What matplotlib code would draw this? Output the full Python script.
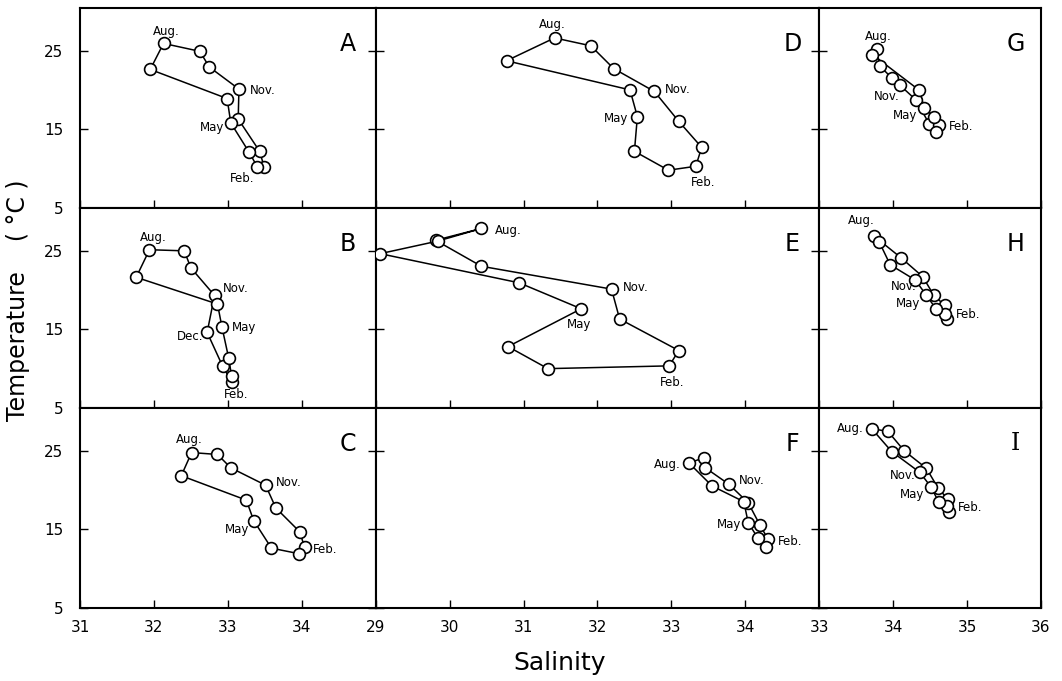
import matplotlib
matplotlib.use("Agg")
import matplotlib.pyplot as plt
import numpy as np

# monthly T-S points, starting in August and going round the loop
A_sal = [32.13, 32.62, 32.75, 33.15, 33.14, 33.43, 33.49, 33.40, 33.29, 33.04, 32.99, 31.95]
A_temp = [25.9, 24.9, 22.9, 20.1, 16.3, 12.2, 10.25, 10.2, 12.05, 15.8, 18.9, 22.6]

B_sal = [31.94, 32.41, 32.50, 32.82, 32.72, 32.93, 33.05, 33.05, 33.01, 32.92, 32.86, 31.76]
B_temp = [25.1, 24.96, 22.8, 19.3, 14.6, 10.3, 8.35, 9.1, 11.4, 15.3, 18.2, 21.6]

C_sal = [32.51, 32.86, 33.04, 33.51, 33.65, 33.97, 34.04, 33.96, 33.59, 33.35, 33.25, 32.37]
C_temp = [24.74, 24.5, 22.8, 20.6, 17.7, 14.7, 12.7, 11.9, 12.6, 16.1, 18.7, 21.8]

D_sal = [31.42, 31.91, 32.22, 32.77, 33.10, 33.41, 33.33, 32.96, 32.50, 32.54, 32.44, 30.77]
D_temp = [26.6, 25.6, 22.7, 19.8, 16.0, 12.7, 10.3, 9.8, 12.2, 16.6, 20.0, 23.7]

E_sal = [30.43, 29.81, 30.43, 32.19, 32.30, 33.10, 32.97, 31.33, 30.79, 31.78, 30.94, 29.06, 29.84]
E_temp = [27.8, 26.3, 23.0, 20.1, 16.3, 12.3, 10.35, 10.0, 12.8, 17.6, 20.9, 24.6, 26.2]

F_sal = [33.24, 33.44, 33.46, 33.78, 34.04, 34.20, 34.31, 34.28, 34.17, 34.04, 33.98, 33.55]
F_temp = [23.4, 24.1, 22.8, 20.7, 18.35, 15.5, 13.7, 12.8, 13.9, 15.8, 18.5, 20.5]

G_sal = [33.775, 33.82, 33.98, 34.09, 34.31, 34.49, 34.62, 34.58, 34.55, 34.42, 34.35, 33.72]
G_temp = [25.13, 23.02, 21.54, 20.61, 18.71, 15.63, 15.51, 14.70, 16.60, 17.74, 19.98, 24.49]

H_sal = [33.74, 34.11, 34.40, 34.55, 34.70, 34.73, 34.70, 34.58, 34.45, 34.30, 33.96, 33.81]
H_temp = [26.85, 24.05, 21.68, 19.31, 18.02, 16.29, 16.94, 17.59, 19.31, 21.25, 23.19, 26.12]

I_sal = [33.71, 33.93, 34.15, 34.45, 34.61, 34.74, 34.75, 34.73, 34.62, 34.51, 34.36, 33.98]
I_temp = [27.77, 27.43, 24.96, 22.74, 20.19, 18.83, 17.13, 17.98, 18.40, 20.40, 22.23, 24.87]

# month labels: (point index, text)
A_labels = [(0, "Aug."), (3, "Nov."), (9, "May"), (6, "Feb.")]
B_labels = [(0, "Aug."), (3, "Nov."), (4, "Dec."), (9, "May"), (6, "Feb.")]
C_labels = [(0, "Aug."), (3, "Nov."), (9, "May"), (6, "Feb.")]
D_labels = [(0, "Aug."), (3, "Nov."), (9, "May"), (6, "Feb.")]
E_labels = [(0, "Aug."), (3, "Nov."), (9, "May"), (6, "Feb.")]
F_labels = [(0, "Aug."), (3, "Nov."), (9, "May"), (6, "Feb.")]
G_labels = [(0, "Aug."), (3, "Nov."), (9, "May"), (6, "Feb.")]
H_labels = [(0, "Aug."), (9, "Nov."), (8, "May"), (6, "Feb.")]
I_labels = [(0, "Aug."), (10, "Nov."), (9, "May"), (7, "Feb.")]

# label offsets in pixels from their point
offsets = {
    "A": [(3, 12), (24, -1), (-19, -5), (-22, -12)],
    "B": [(4, 12), (21, 7), (-17, -4), (22, -1), (5, -13)],
    "C": [(-2, 13), (23, 3), (-17, -9), (20, -2)],
    "D": [(-2, 13), (23, 2), (-21, -2), (7, -16)],
    "E": [(27, -2), (24, 2), (-2, -16), (3, -17)],
    "F": [(-22, -1), (23, 4), (-19, -2), (22, -2)],
    "G": [(2, 13), (-13, -11), (-19, -8), (22, -1)],
    "H": [(-13, 15), (-12, -6), (-18, -8), (23, -1)],
    "I": [(-21, 0), (-17, -3), (-19, -8), (23, -2)],
}

data = {
    "A": (A_sal, A_temp, A_labels), "B": (B_sal, B_temp, B_labels),
    "C": (C_sal, C_temp, C_labels), "D": (D_sal, D_temp, D_labels),
    "E": (E_sal, E_temp, E_labels), "F": (F_sal, F_temp, F_labels),
    "G": (G_sal, G_temp, G_labels), "H": (H_sal, H_temp, H_labels),
    "I": (I_sal, I_temp, I_labels),
}

grid = [["A", "D", "G"], ["B", "E", "H"], ["C", "F", "I"]]
xlims = [(31, 35), (29, 35), (33, 36)]
xticks = [[31, 32, 33, 34], [29, 30, 31, 32, 33, 34], [33, 34, 35, 36]]
letter_x = [0.905, 0.94, 0.885]

plt.rcParams["font.family"] = "DejaVu Sans"

fig = plt.figure(figsize=(10.62, 6.81), dpi=100)
gs = fig.add_gridspec(3, 3, width_ratios=[4, 6, 3],
                      left=80 / 1062, right=1041 / 1062,
                      top=1 - 8 / 681, bottom=1 - 608 / 681,
                      hspace=0, wspace=0)

for r in range(3):
    for c in range(3):
        key = grid[r][c]
        sal, temp, labels = data[key]
        ax = fig.add_subplot(gs[r, c])
        xs = np.append(sal, sal[0])
        ys = np.append(temp, temp[0])
        ax.plot(xs, ys, "-", color="black", lw=1.1, zorder=2)
        ax.plot(sal, temp, "o", ms=8.5, mfc="white", mec="black", mew=1.2, zorder=3)

        for (idx, txt), off in zip(labels, offsets[key]):
            ax.annotate(txt, (sal[idx], temp[idx]), xytext=off,
                        textcoords="offset pixels", ha="center", va="center",
                        fontsize=8.5, zorder=4)

        # the original letters are sans, except the serif "I"
        fam = "DejaVu Serif" if key == "I" else "DejaVu Sans"
        ax.text(letter_x[c], 0.82, key, transform=ax.transAxes,
                fontsize=17, ha="center", va="center", family=fam)

        ax.set_xlim(*xlims[c])
        ax.set_ylim(5, 30.4)
        ax.set_xticks(xticks[c])
        ax.set_yticks([5, 15, 25])
        ax.tick_params(direction="in", length=6, width=1.0, labelsize=11)
        ax.tick_params(axis="x", pad=9)
        ax.tick_params(axis="y", left=True, right=(c < 2), pad=12)
        if r < 2:
            ax.tick_params(labelbottom=False)
        if c > 0:
            ax.tick_params(labelleft=False)
        for sp in ax.spines.values():
            sp.set_linewidth(1.5)

fig.text(18 / 1062, 1 - 300 / 681, "Temperature    ( °C )", rotation=90,
         ha="center", va="center", fontsize=17)
fig.text(560 / 1062, 1 - 663 / 681, "Salinity", ha="center", va="center",
         fontsize=18)

fig.savefig("out.png", dpi=100)
